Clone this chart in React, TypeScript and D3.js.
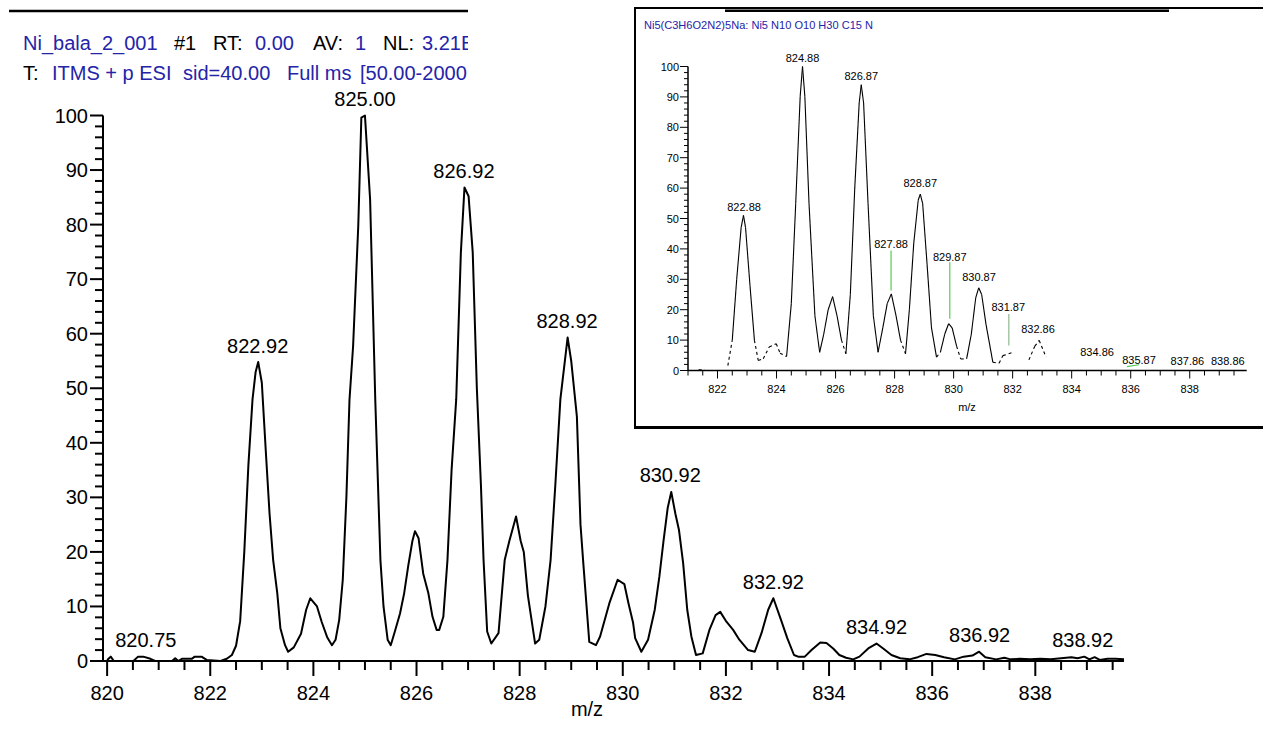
import React from 'react';
import * as d3 from 'd3';

// ---------- DATA ----------
// Main measured spectrum (m/z, relative abundance)
const mainSpectrum: [number, number][] = [
  [820.0, 0.2], [820.07, 0.8], [820.13, 0], [820.51, 0], [820.6, 0.8], [820.7, 0.8], [820.84, 0.4], [820.93, 0],
  [821.26, 0], [821.32, 0.5], [821.38, 0], [821.45, 0.4], [821.64, 0.4], [821.7, 0.8], [821.83, 0.8], [821.93, 0.2],
  [822.2, 0], [822.32, 0.4], [822.42, 1.1], [822.5, 2.8], [822.58, 7.3], [822.66, 20], [822.74, 36], [822.82, 48],
  [822.88, 53], [822.93, 54.8], [823.0, 51], [823.08, 38], [823.15, 27], [823.22, 18.5], [823.3, 12.4], [823.36, 6],
  [823.45, 2.9], [823.51, 1.7], [823.62, 2.5], [823.76, 5], [823.86, 9.4], [823.94, 11.5], [824.07, 10], [824.16, 7.2],
  [824.27, 4.3], [824.36, 2.9], [824.43, 3.9], [824.5, 7.5], [824.57, 14.9], [824.64, 30], [824.7, 47.9], [824.77, 57.7],
  [824.87, 79.7], [824.93, 99.6], [825.0, 100], [825.1, 84.6], [825.2, 47.9], [825.3, 18.5], [825.36, 10], [825.44, 3.9],
  [825.5, 2.9], [825.58, 5.4], [825.68, 8.7], [825.76, 12.4], [825.84, 17.5], [825.92, 22], [825.97, 23.8], [826.04, 22.5],
  [826.13, 16], [826.23, 12.4], [826.31, 8.1], [826.39, 5.7], [826.44, 5.7], [826.52, 8.1], [826.6, 18.5], [826.68, 35],
  [826.77, 48], [826.86, 74.9], [826.93, 86.8], [827.01, 85.2], [827.09, 74.9], [827.17, 50], [827.25, 32], [827.3, 18.5],
  [827.37, 5.4], [827.45, 3.2], [827.59, 5.1], [827.71, 18.5], [827.8, 22], [827.93, 26.5], [828.02, 22], [828.08, 20],
  [828.16, 12], [828.3, 3.2], [828.38, 3.9], [828.5, 10], [828.6, 18.5], [828.69, 32], [828.79, 48], [828.93, 59.3],
  [829.0, 55], [829.11, 44.8], [829.18, 25], [829.23, 18.5], [829.35, 3.5], [829.48, 2.9], [829.56, 4.5], [829.74, 10.6],
  [829.9, 14.9], [830.03, 14.1], [830.11, 10.6], [830.2, 7], [830.24, 4.2], [830.36, 1.7], [830.49, 3.9], [830.62, 9.4],
  [830.71, 15.5], [830.79, 22], [830.87, 28], [830.94, 31], [831.02, 27], [831.09, 24], [831.17, 18], [831.25, 9.4],
  [831.33, 4.5], [831.42, 1.1], [831.55, 1.4], [831.68, 5.7], [831.8, 8.4], [831.89, 9.0], [832.01, 7.2], [832.14, 5.7],
  [832.26, 3.9], [832.43, 2.0], [832.56, 1.7], [832.69, 5.1], [832.82, 9.4], [832.92, 11.5], [833.07, 7.5], [833.19, 4.2],
  [833.32, 1.1], [833.4, 0.8], [833.53, 0.8], [833.66, 2.0], [833.83, 3.4], [833.95, 3.3], [834.08, 2.3], [834.2, 1.1],
  [834.33, 0.6], [834.47, 0.3], [834.59, 0.8], [834.76, 2.3], [834.92, 3.2], [835.05, 2.3], [835.21, 1.1], [835.38, 0.5],
  [835.56, 0.3], [835.72, 0.7], [835.89, 1.3], [836.06, 1.1], [836.23, 0.7], [836.44, 0.3], [836.61, 0.8], [836.78, 1.0],
  [836.91, 1.7], [837.03, 0.7], [837.24, 0.3], [837.4, 0.6], [837.52, 0.3], [837.7, 0.4], [837.9, 0.3], [838.1, 0.4],
  [838.3, 0.3], [838.5, 0.5], [838.7, 0.7], [838.82, 0.5], [838.95, 0.8], [839.05, 0.3], [839.15, 0.7], [839.25, 0.2],
  [839.4, 0.4], [839.55, 0.4], [839.72, 0.3],
];

// Main peak labels: m/z and apex abundance
const mainLabelMz = [820.75, 822.92, 825.0, 826.92, 828.92, 830.92, 832.92, 834.92, 836.92, 838.92];
const mainLabelApex = [0.8, 54.8, 100, 86.8, 59.3, 31, 11.5, 3.2, 1.7, 0.8];

const mainXTicks = [820, 822, 824, 826, 828, 830, 832, 834, 836, 838];
const mainYTicks = [0, 10, 20, 30, 40, 50, 60, 70, 80, 90, 100];

// Inset: simulated isotope pattern (null = break)
const insetCurve: [number, number | null][] = [
  [821.36, 0.2], [821.57, 0.2], [821.6, null],
  [822.35, 1.6], [822.5, 10], [822.65, 30], [822.8, 47], [822.88, 51], [822.95, 47], [823.1, 28], [823.25, 10], [823.38, 3.3],
  [823.55, 3.9], [823.75, 7.7], [823.99, 8.8], [824.12, 5.7], [824.34, 4.6],
  [824.5, 22], [824.65, 55], [824.8, 90], [824.88, 100], [824.96, 90], [825.1, 55], [825.3, 18], [825.46, 6],
  [825.6, 12], [825.75, 20], [825.9, 24.3], [826.05, 18], [826.2, 10], [826.35, 5.5],
  [826.5, 25], [826.65, 60], [826.8, 88], [826.87, 94], [826.95, 88], [827.1, 55], [827.28, 18], [827.44, 6],
  [827.6, 14], [827.75, 22], [827.89, 25.2], [828.05, 18], [828.2, 10], [828.37, 5.5],
  [828.5, 20], [828.65, 42], [828.8, 56], [828.87, 58], [828.95, 55], [829.1, 35], [829.25, 14], [829.42, 4.4],
  [829.55, 6], [829.7, 12], [829.83, 15.4], [829.95, 14], [830.1, 8], [830.24, 3.8],
  [830.44, 3.8], [830.6, 12], [830.75, 24], [830.85, 27.2], [830.95, 25], [831.1, 15], [831.33, 2.7],
  [831.54, 2.4], [831.67, 4.9], [832.01, 6], [832.1, null],
  [832.55, 3.5], [832.75, 8], [832.9, 9.9], [833.13, 4.4],
];

const insetLabelText = ['824.88', '826.87', '822.88', '828.87', '827.88', '829.87', '830.87', '831.87', '832.86', '834.86', '835.87', '837.86', '838.86'];
const insetLabelMz = [824.88, 826.87, 822.9, 828.87, 827.88, 829.87, 830.86, 831.85, 832.86, 834.86, 836.28, 837.92, 839.29];
const insetLabelI = [101.5, 95.4, 52.4, 60.3, 40.2, 36.1, 29.5, 19.6, 12.2, 4.8, 2.3, 1.8, 1.8];

// leader lines: [mz1, I1, mz2, I2]
const insetLeaders: [number, number, number, number][] = [
  [827.88, 26.3, 827.88, 39.5],
  [829.87, 17, 829.87, 35.6],
  [831.87, 8.2, 831.87, 18.6],
  [835.87, 1.3, 836.28, 1.9],
];

const insetXTicks = [822, 824, 826, 828, 830, 832, 834, 836, 838];
const insetYTicks = [0, 10, 20, 30, 40, 50, 60, 70, 80, 90, 100];

const headerLine1: [string, boolean, number][] = [
  ['Ni_bala_2_001', true, 23], ['#1', false, 174], ['RT:', false, 213], ['0.00', true, 255],
  ['AV:', false, 313], ['1', true, 355], ['NL:', false, 383], ['3.21E4', true, 422],
];
const headerLine2: [string, boolean, number][] = [
  ['T:', false, 23], ['ITMS + p ESI', true, 52], ['sid=40.00', true, 183], ['Full ms', true, 287], ['[50.00-2000.00]', true, 360],
];
const insetTitle = 'Ni5(C3H6O2N2)5Na: Ni5 N10 O10 H30 C15 Na1';

// ---------- CHART ----------
const FONT = '"Liberation Sans", Arial, Helvetica, sans-serif';
const BLUE = '#2424a8';

export default function App() {
  const W = 1263, H = 738;
  const x = d3.scaleLinear().domain([819.92, 839.72]).range([103, 1124]);
  const y = d3.scaleLinear().domain([0, 100]).range([661, 115.5]);

  const xi = d3.scaleLinear().domain([821.0, 839.93]).range([688, 1246.7]);
  const yi = d3.scaleLinear().domain([0, 100]).range([370.5, 66.5]);

  const mainLine = d3.line<[number, number]>().x(d => x(d[0])).y(d => y(d[1]));

  const xMinor = d3.range(820, 839.6, 0.5).filter(v => !mainXTicks.includes(v));
  const yMinor = d3.range(0, 101, 2).filter(v => v % 10 !== 0);
  const xiMinor = d3.range(821, 840, 0.5).filter(v => !insetXTicks.includes(v));
  const yiMinor = d3.range(0, 101, 2).filter(v => v % 10 !== 0);

  // inset segments
  const segs: { x1: number; y1: number; x2: number; y2: number; dashed: boolean }[] = [];
  for (let i = 0; i < insetCurve.length - 1; i++) {
    const a = insetCurve[i], b = insetCurve[i + 1];
    if (a[1] == null || b[1] == null) continue;
    segs.push({
      x1: xi(a[0]), y1: yi(a[1]), x2: xi(b[0]), y2: yi(b[1]),
      dashed: a[1] < 11 && b[1] < 11,
    });
  }
  const leaderColors = ['#55cc55', '#55cc55', '#90b890', '#55cc55'];

  return (
    <svg width={W} height={H} style={{ position: 'absolute', left: 0, top: 0, display: 'block', background: '#fff' }}
      fontFamily={FONT}>
      <defs>
        <clipPath id="hdrclip"><rect x={0} y={0} width={468} height={100} /></clipPath>
      </defs>
      <rect x={0} y={0} width={W} height={H} fill="#fff" />

      {/* header */}
      <line x1={9} x2={468} y1={11} y2={11} stroke="#000" strokeWidth={2.5} />
      <g clipPath="url(#hdrclip)" fontSize={20}>
        {headerLine1.map(([t, blue, px], i) => (
          <text key={'h1' + i} x={px} y={50} fill={blue ? BLUE : '#000'}>{t}</text>
        ))}
        {headerLine2.map(([t, blue, px], i) => (
          <text key={'h2' + i} x={px} y={80} fill={blue ? BLUE : '#000'}>{t}</text>
        ))}
      </g>

      {/* main axes */}
      <g stroke="#000" strokeWidth={2}>
        <line x1={103} x2={103} y1={y(0)} y2={y(100)} />
        <line x1={103} x2={1124} y1={y(0)} y2={y(0)} />
        {mainYTicks.map(v => <line key={'yt' + v} x1={90} x2={103} y1={y(v)} y2={y(v)} />)}
        {yMinor.map(v => <line key={'ym' + v} x1={95} x2={103} y1={y(v)} y2={y(v)} />)}
        {mainXTicks.map(v => <line key={'xt' + v} x1={x(v)} x2={x(v)} y1={y(0)} y2={y(0) + 15} />)}
        {xMinor.map(v => <line key={'xm' + v} x1={x(v)} x2={x(v)} y1={y(0)} y2={y(0) + 9} />)}
      </g>
      <g fontSize={20} fill="#000">
        {mainYTicks.map(v => <text key={'yl' + v} x={88} y={y(v) + 7} textAnchor="end">{v}</text>)}
        {mainXTicks.map(v => <text key={'xl' + v} x={x(v)} y={700} textAnchor="middle">{v}</text>)}
        <text x={587} y={716} textAnchor="middle">m/z</text>
        {mainLabelMz.map((m, i) => (
          <text key={'pl' + i} x={x(m)} y={y(mainLabelApex[i]) - 9.5} textAnchor="middle">{m.toFixed(2)}</text>
        ))}
      </g>
      <path d={mainLine(mainSpectrum) || ''} fill="none" stroke="#000" strokeWidth={2} strokeLinejoin="round" />

      {/* inset */}
      <rect x={634} y={7.5} width={W} height={420} fill="#fff" />
      <line x1={634} x2={W} y1={8} y2={8} stroke="#000" strokeWidth={2} />
      <line x1={725} x2={1169} y1={10.8} y2={10.8} stroke="#000" strokeWidth={2.5} />
      <line x1={635} x2={635} y1={7} y2={429} stroke="#000" strokeWidth={2} />
      <line x1={634} x2={W} y1={427.5} y2={427.5} stroke="#000" strokeWidth={3} />
      <text x={644} y={28.5} fontSize={11} fill={BLUE} textLength={229} lengthAdjust="spacingAndGlyphs">
        {insetTitle.slice(0, 39)}
      </text>

      <g stroke="#000" strokeWidth={1}>
        <line x1={688} x2={688} y1={yi(0)} y2={yi(100)} strokeWidth={1.5} />
        <line x1={688} x2={1246.7} y1={yi(0)} y2={yi(0)} strokeWidth={1.5} />
        {insetYTicks.map(v => <line key={'iyt' + v} x1={680} x2={688} y1={yi(v)} y2={yi(v)} />)}
        {yiMinor.map(v => <line key={'iym' + v} x1={684} x2={688} y1={yi(v)} y2={yi(v)} />)}
        {insetXTicks.map(v => <line key={'ixt' + v} x1={xi(v)} x2={xi(v)} y1={yi(0)} y2={yi(0) + 8} />)}
        {xiMinor.map(v => <line key={'ixm' + v} x1={xi(v)} x2={xi(v)} y1={yi(0)} y2={yi(0) + 5} />)}
      </g>
      <g fontSize={11} fill="#000">
        {insetYTicks.map(v => <text key={'iyl' + v} x={679} y={yi(v) + 4} textAnchor="end">{v}</text>)}
        {insetXTicks.map(v => <text key={'ixl' + v} x={xi(v)} y={393} textAnchor="middle">{v}</text>)}
        <text x={967} y={410.5} textAnchor="middle">m/z</text>
      </g>
      <g stroke="#000" strokeWidth={1.1} fill="none">
        {segs.map((s, i) => (
          <line key={'is' + i} x1={s.x1} y1={s.y1} x2={s.x2} y2={s.y2} strokeDasharray={s.dashed ? '3,3' : undefined} />
        ))}
      </g>
      {insetLeaders.map((l, i) => (
        <line key={'ld' + i} x1={xi(l[0])} y1={yi(l[1])} x2={xi(l[2])} y2={yi(l[3])} stroke={leaderColors[i]} strokeWidth={1.2} />
      ))}
      <g fontSize={11} fill="#000">
        {insetLabelText.map((t, i) => (
          <text key={'il' + i} x={xi(insetLabelMz[i])} y={yi(insetLabelI[i])} textAnchor="middle">{t}</text>
        ))}
      </g>
    </svg>
  );
}
